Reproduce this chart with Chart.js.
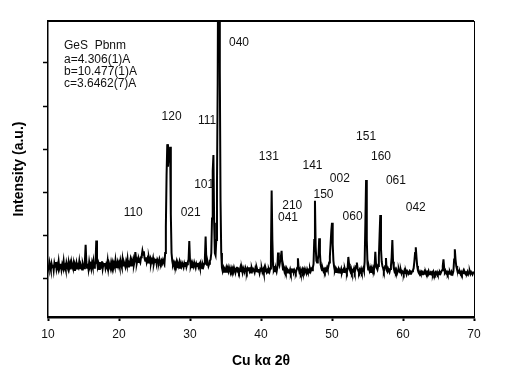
<!DOCTYPE html>
<html>
<head>
<meta charset="utf-8">
<script src="https://cdn.jsdelivr.net/npm/chart.js@4.4.1/dist/chart.umd.min.js"></script>
<style>
  body{margin:0;background:#fff;}
  #wrap{width:516px;height:386px;}
</style>
</head>
<body>
<div id="wrap"><canvas id="xrd" width="516" height="386"></canvas></div>
<script>
// scan start / step (2theta, deg)
var start2t = 10;
var step2t = 0.1;

// intensity, one row per degree (10.0 ... 69.9), last value = 70.0
var intensity = [
  310,240,380,290,210,350,270,330,200,360,
  280,390,230,320,260,400,240,300,350,220,
  330,270,410,250,300,220,370,290,240,380,
  260,340,220,390,300,250,360,210,330,280,
  370,240,310,270,400,230,340,290,220,360,
  300,250,420,790,400,260,350,230,390,280,
  330,240,370,290,410,260,330,380,890,420,
  280,350,230,390,300,260,410,240,340,310,
  370,250,330,280,420,240,360,300,270,390,
  310,380,260,350,290,430,270,340,400,300,
  360,280,420,330,270,450,310,390,340,280,
  400,330,460,290,380,350,440,310,420,370,
  450,330,410,620,480,360,440,390,470,420,
  380,500,540,650,560,640,480,420,500,390,
  460,380,500,420,470,360,440,400,480,350,
  430,390,470,350,450,410,380,460,400,360,
  420,370,440,390,350,600,1200,2400,3120,2600,
  2900,2700,3060,1500,600,420,330,380,290,360,
  310,390,270,350,300,380,260,340,290,370,
  330,270,360,300,390,280,340,400,450,880,
  420,300,360,270,340,290,380,320,260,350,
  300,370,280,330,260,360,300,250,340,290,
  350,480,980,440,330,380,300,350,420,450,
  600,1400,2500,2870,1300,600,550,900,2200,4500,
  9000,9500,4800,1800,600,260,180,250,170,230,
  200,260,150,240,180,270,210,160,250,190,
  240,170,260,200,150,230,280,190,220,160,
  210,270,180,230,150,250,200,170,260,210,
  160,240,200,270,180,220,150,250,190,230,
  200,150,240,180,260,200,170,230,140,220,
  190,240,160,210,130,250,180,220,160,200,
  150,220,170,240,600,2050,900,300,200,240,
  180,230,170,260,610,380,320,420,520,650,
  350,220,260,180,240,170,230,150,210,190,
  160,220,140,200,170,240,150,210,180,140,
  200,260,480,250,170,220,140,190,230,160,
  210,150,230,180,140,220,170,200,150,240,
  180,230,200,260,350,900,1810,750,420,380,
  450,560,940,600,330,250,200,240,180,220,
  170,230,200,260,210,300,380,520,800,1100,
  1300,800,420,280,190,240,160,210,180,230,
  150,200,170,230,140,190,220,160,240,180,
  210,160,240,510,350,220,170,230,150,200,
  180,240,160,220,300,380,250,190,150,210,
  170,230,160,210,250,190,400,1300,2290,900,
  350,220,270,190,240,160,230,180,260,210,
  280,630,350,260,220,300,500,1000,1480,700,
  400,300,250,180,240,300,485,200,170,240,
  200,160,230,300,500,903,400,250,180,220,
  160,210,140,190,230,170,150,200,130,180,
  160,120,190,140,170,110,180,150,130,170,
  120,160,140,180,200,250,400,600,733,500,
  300,200,150,120,170,130,160,110,150,130,
  170,120,150,100,160,130,180,110,140,160,
  120,150,110,170,130,100,150,120,160,110,
  140,110,160,130,170,200,300,456,250,150,
  180,130,160,110,150,120,170,130,100,150,
  120,180,450,687,450,300,230,200,170,140,
  170,120,160,110,150,190,130,160,120,150,
  130,170,110,150,180,120,160,130,110,150,
  140
];

// axis ticks
var xTicks = [10,20,30,40,50,60,70];
var yTicks = [0,1000,2000,3000,4000,5000];

// hkl labels: text, 2theta, intensity
var hklText = ["040","120","111","101","110","021","131","210","041","141","150","002","060","151","160","061","042"];
var hklPos2t = [36.9,27.4,32.4,32.0,22.0,30.1,41.1,44.4,43.8,47.25,48.8,51.1,52.9,54.8,56.9,59.0,61.8];
var hklPosI = [5460,3750,3655,2175,1540,1540,2820,1700,1410,2625,1955,2315,1445,3285,2820,2265,1655];

// phase info block
var infoText = ["GeS  Pbnm","a=4.306(1)A","b=10.477(1)A","c=3.6462(7)A"];
var infoPos2t = 12.25;
var infoPosI = [5390,5070,4790,4510];

var pts = [];
for(var i=0;i<intensity.length;i++){
    pts.push({x: start2t + i*step2t, y: intensity[i]});
}

var FONT = "'Liberation Sans', Arial, sans-serif";

// top / right frame lines
var framePlugin = {
    id:'frame',
    afterDraw:function(chart){
        var a = chart.chartArea, ctx = chart.ctx;
        ctx.save();
        ctx.strokeStyle = '#000';
        ctx.lineWidth = 2;
        ctx.beginPath();
        ctx.moveTo(a.left-1, a.top);
        ctx.lineTo(a.right, a.top);
        ctx.stroke();
        ctx.lineWidth = 1;
        ctx.beginPath();
        ctx.moveTo(a.right+0.5, a.top);
        ctx.lineTo(a.right+0.5, a.bottom);
        ctx.stroke();
        ctx.restore();
    }
};

// hkl + cell text
var labelPlugin = {
    id:'labels',
    afterDatasetsDraw:function(chart){
        var ctx = chart.ctx, sx = chart.scales.x, sy = chart.scales.y;
        ctx.save();
        ctx.fillStyle = '#111';
        ctx.font = '12px ' + FONT;
        ctx.textBaseline = 'middle';
        ctx.textAlign = 'center';
        for(var i=0;i<hklText.length;i++){
            ctx.fillText(hklText[i], sx.getPixelForValue(hklPos2t[i]), sy.getPixelForValue(hklPosI[i]));
        }
        ctx.textAlign = 'left';
        for(var j=0;j<infoText.length;j++){
            ctx.fillText(infoText[j], sx.getPixelForValue(infoPos2t), sy.getPixelForValue(infoPosI[j]));
        }
        ctx.restore();
    }
};

new Chart(document.getElementById('xrd'), {
    type:'line',
    data:{
        datasets:[{
            data: pts,
            borderColor:'#000',
            borderWidth:2,
            pointRadius:0,
            tension:0,
            fill:false
        }]
    },
    options:{
        responsive:false,
        devicePixelRatio:1,
        animation:false,
        layout:{padding:{top:21,right:42,left:0,bottom:0}},
        plugins:{legend:{display:false},tooltip:{enabled:false}},
        scales:{
            x:{
                type:'linear',
                min:10,max:70,
                afterBuildTicks:function(s){ s.ticks = xTicks.map(function(v){return {value:v};}); },
                afterFit:function(s){ s.height = 69; },
                ticks:{color:'#111',font:{family:FONT,size:12},padding:6,maxRotation:0},
                grid:{drawOnChartArea:false,drawTicks:true,tickLength:4,tickWidth:2,tickColor:'#000'},
                border:{display:true,color:'#000',width:2.5},
                title:{display:true,text:'Cu kα 2θ',color:'#000',font:{family:FONT,size:14,weight:'bold'},padding:{top:0,bottom:16}}
            },
            y:{
                min:-880,max:5970,
                afterBuildTicks:function(s){ s.ticks = yTicks.map(function(v){return {value:v};}); },
                afterFit:function(s){ s.width = 48; },
                ticks:{display:false},
                grid:{drawOnChartArea:false,drawTicks:true,tickLength:5,tickWidth:1.5,tickColor:'#000'},
                border:{display:true,color:'#000',width:1.5},
                title:{display:true,text:'Intensity (a.u.)',color:'#000',font:{family:FONT,size:14,weight:'bold'},padding:{top:11,bottom:0}}
            }
        }
    },
    plugins:[framePlugin,labelPlugin]
});
</script>
</body>
</html>
